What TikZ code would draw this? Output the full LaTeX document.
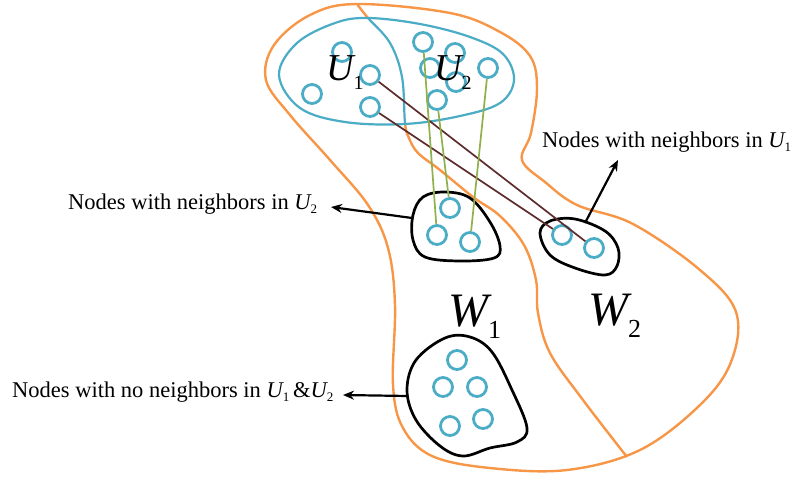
\documentclass[tikz,border=0pt]{standalone}
\usepackage{fontspec}
\setmainfont{Liberation Serif}
\usetikzlibrary{arrows.meta}
\definecolor{orng}{HTML}{F79646}
\definecolor{tealb}{HTML}{4BACC6}
\definecolor{edgegreen}{HTML}{8FB04A}
\definecolor{edgered}{HTML}{5E2C2C}
% italic letter with a lowered upright index
\newcommand\Sym[5]{{\fontsize{#3}{#3}\selectfont\itshape #1}\raisebox{-#5}{\fontsize{#4}{#4}\selectfont #2}}
\tikzset{
  region/.style={draw=orng, line width=2.4pt},
  group/.style={draw=tealb, line width=2.2pt},
  blob/.style={draw=black, line width=2.7pt},
  dot/.style={circle, draw=tealb, line width=2.8pt, minimum size=19pt, inner sep=0pt},
  redge/.style={draw=edgered, line width=1.7pt},
  gedge/.style={draw=edgegreen, line width=1.7pt},
  arr/.style={draw=black, line width=2.2pt, -{Stealth[length=11pt,width=9pt]}},
  lbl/.style={anchor=base west, inner sep=0pt, font=\fontsize{22.5}{26}\selectfont},
  big/.style={anchor=base west, inner sep=0pt},
  % outline of the set U
  ublob/.style={insert path={plot[smooth cycle, tension=0.6] coordinates {
    (279,75) (297,43) (335,23) (368,18) (420,24) (470,37) (503,54) (514,80)
    (500,103) (460,116) (405,124) (345,122) (300,108)}}},
  % line between W1 and W2, continuing between U1 and U2
  divider/.style={insert path={plot[smooth, tension=0.6] coordinates {
    (357,4) (368,18) (390,43) (402,77) (405,123) (409,138) (418,153) (440,170)
    (473,197) (500,216) (524,245) (536,280) (538,313) (550,353) (583,400) (627,457)}}}
}
\begin{document}
\begin{tikzpicture}[x=1pt,y=-1pt]
\useasboundingbox (0,0) rectangle (793,485);

% outer region
\draw[region] plot[smooth cycle, tension=0.6] coordinates {
  (357,4) (450,13) (500,32) (530,56) (537,88) (531,133) (522,160) (545,182)
  (577,205) (633,224) (700,270) (736,312) (731,362) (700,405) (640,450)
  (567,470) (490,468) (432,456) (403,428) (393,385) (395,305) (388,248)
  (368,205) (330,160) (290,115) (266,80) (274,45) (310,15)};

\draw[region, divider];
\begin{scope}
  \clip[ublob];
  \fill[white, ublob];
  \draw[group, divider];
\end{scope}
\draw[group, ublob];

% groups of W nodes
\draw[blob] plot[smooth cycle, tension=0.6] coordinates {
  (413,215) (423,197) (445,192) (470,198) (490,222) (500,246) (494,258)
  (460,261) (425,257) (413,240)};
\draw[blob] plot[smooth cycle, tension=0.6] coordinates {
  (540,233) (550,221) (575,219) (605,231) (618,248) (617,266) (605,275)
  (575,268) (550,255)};
\draw[blob] plot[smooth cycle, tension=0.6] coordinates {
  (407,390) (416,360) (445,338) (470,337) (492,352) (512,390) (527,428)
  (517,442) (490,448) (463,456) (440,446) (416,420)};

% nodes of U1
\node[dot] (a1) at (342,52) {};
\node[dot] (a2) at (370,75) {};
\node[dot] (a3) at (312,94) {};
\node[dot] (a4) at (370,107) {};
% nodes of U2
\node[dot] (b1) at (423,42) {};
\node[dot] (b2) at (455,53) {};
\node[dot] (b3) at (430,68) {};
\node[dot] (b4) at (456,82) {};
\node[dot] (b5) at (488,68) {};
\node[dot] (b6) at (437,100) {};
% W nodes with neighbours in U2
\node[dot] (p1) at (450,208) {};
\node[dot] (p2) at (437,235) {};
\node[dot] (p3) at (470,242) {};
% W nodes with neighbours in U1
\node[dot] (q1) at (562,235) {};
\node[dot] (q2) at (594,248) {};
% W nodes with no neighbours in U
\node[dot] (r1) at (457,360) {};
\node[dot] (r2) at (443,387) {};
\node[dot] (r3) at (477,387) {};
\node[dot] (r4) at (450,426) {};
\node[dot] (r5) at (483,419) {};

% edges
\draw[redge] (a2) -- (q2);
\draw[redge] (a4) -- (q1);
\draw[gedge] (b1) -- (p2);
\draw[gedge] (b6) -- (p1);
\draw[gedge] (b5) -- (p3);

% set names
\node[big] (nU1) at (326,80) {\Sym{U}{1}{38}{20}{9pt}};
\node[big] (nU2) at (434,80) {\Sym{U}{2}{38}{20}{9pt}};
\node[big] (nW1) at (448,326) {\Sym{W}{1}{48}{26}{12pt}};
\node[big] (nW2) at (588,325) {\Sym{W}{2}{48}{26}{12pt}};

% descriptions
\node[lbl] (tU2) at (68,209) {Nodes with neighbors in \Sym{U}{2}{22.5}{13}{4pt}};
\node[lbl] (tU1) at (542,147) {Nodes with neighbors in \Sym{U}{1}{22.5}{13}{4pt}};
\node[lbl] (tNo) at (12,397) {Nodes with no neighbors in \Sym{U}{1}{22.5}{13}{4pt}\,\&\Sym{U}{2}{22.5}{13}{4pt}};

% pointers
\coordinate (sA) at (412,218);
\coordinate (eA) at (331,207);
\coordinate (sB) at (585,223);
\coordinate (eB) at (618,160);
\coordinate (sC) at (408,396);
\coordinate (eC) at (343,395);
\draw[arr] (sA) -- (eA);
\draw[arr] (sB) -- (eB);
\draw[arr] (sC) -- (eC);
\end{tikzpicture}
\end{document}
